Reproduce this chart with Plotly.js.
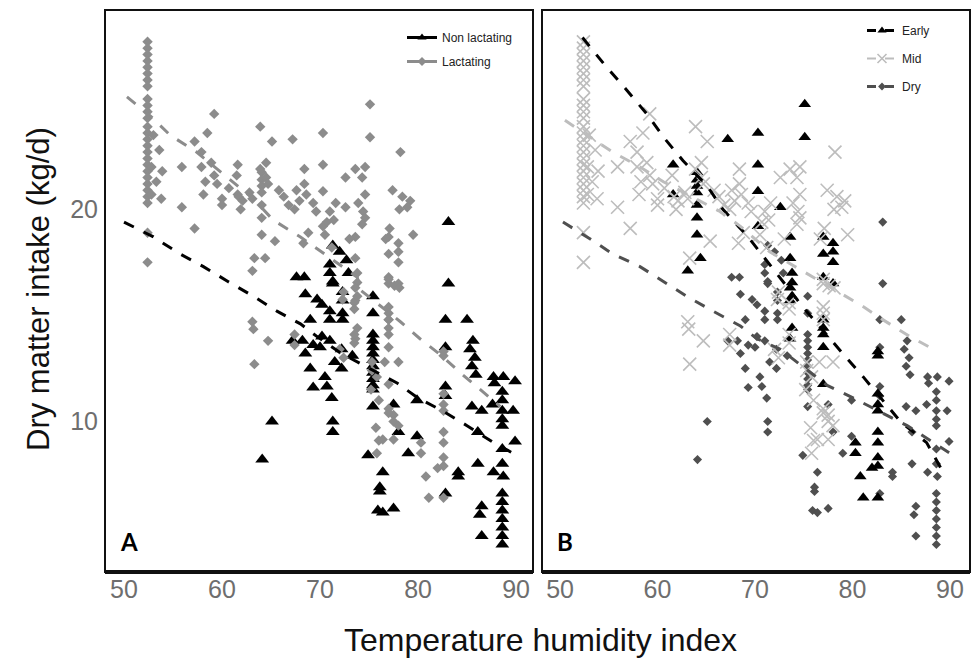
<!DOCTYPE html>
<html>
<head>
<meta charset="utf-8">
<script src="https://cdn.plot.ly/plotly-3.0.1.min.js"></script>
<style>html,body{margin:0;padding:0;background:#fff;}#chart{width:977px;height:665px;}</style>
</head>
<body>
<div id="chart"></div>
<script>
// ---- Data: Temperature humidity index (THI) vs Dry matter intake (kg/d) ----
// Dry (non lactating) cows
const dryTHI = [64.1,65.1,67.6,68.4,68.5,69.0,67.2,68.2,68.5,69.3,70.0,69.0,69.3,70.5,70.7,71.2,71.3,71.3,
  71.3,72.0,72.7,71.0,71.0,72.9,71.3,71.3,72.3,69.7,70.2,71.0,72.3,72.3,71.0,72.3,70.2,71.0,72.2,73.3,71.5,72.2,
  75.4,75.4,75.4,75.4,75.4,75.4,75.4,75.4,75.4,75.4,75.4,75.4,75.4,74.9,76.4,76.1,76.1,75.9,76.4,77.5,77.5,78.0,
  79.9,79.0,79.9,83.1,83.1,82.8,85.0,82.8,82.8,82.8,82.8,84.1,84.1,85.6,85.3,85.8,85.5,85.9,85.5,86.5,87.6,86.1,
  86.1,86.5,86.3,86.5,87.7,88.7,89.9,87.8,88.6,88.6,88.6,88.6,88.6,89.7,89.9,88.6,88.6,87.7,88.7,88.6,88.6,88.6,
  88.6,88.6,88.6,88.6];
const dryDMI = [8.2,10.0,16.8,16.8,16.0,14.8,13.8,13.8,13.2,13.6,13.5,12.5,11.6,12.1,11.65,11.1,10.0,9.5,
  18.3,18.0,17.6,17.4,17.0,17.0,16.6,16.5,16.1,15.75,15.5,15.2,15.7,15.1,14.8,14.8,14.0,13.8,13.4,13.1,12.8,12.5,
  15.9,15.1,14.1,13.8,13.5,13.2,12.9,12.6,12.3,12.0,11.7,11.5,10.7,8.4,7.6,6.9,6.7,5.8,5.7,5.9,10.8,9.5,
  9.3,8.5,11.0,19.4,16.5,14.8,14.8,13.5,11.65,11.2,6.6,7.6,7.4,13.8,13.4,13.0,12.6,12.2,10.7,10.5,10.8,9.5,
  8.0,6.0,5.6,4.6,12.1,12.1,11.9,11.8,11.4,11.0,10.5,10.1,9.8,10.5,9.05,8.7,8.0,7.6,7.4,6.6,6.2,
  5.8,5.4,5.0,4.6,4.2];

// Early lactation cows
const earlyTHI = [75.1,75.1,70.3,67.2,61.6,64.05,64.05,64.05,70.3,70.3,61.6,64.05,64.05,64.05,64.05,64.4,63.1,
  72.6,70.3,73.6,73.6,73.8,73.8,77.0,78.0,77.0,78.0,78.0,77.0,78.0,73.6,73.8,73.6,73.8,73.6,77.0,77.0,77.0,77.0,
  77.0,82.6,82.6,82.6,82.6,82.6,82.6,82.6,82.6,82.6,80.3,80.3,80.8,82.0,81.1,82.6];
const earlyDMI = [24.95,23.4,23.6,23.3,22.1,21.75,21.4,21.1,22.1,20.85,20.7,20.8,20.2,19.6,18.8,17.7,17.1,
  20.1,19.2,18.7,17.7,17.0,16.55,18.7,18.4,17.9,18.0,17.5,16.8,16.5,16.3,15.9,15.7,14.4,13.9,14.8,14.4,14.1,13.5,
  11.75,13.3,13.1,11.3,10.8,10.5,9.5,9.0,8.3,7.9,9.0,8.5,7.4,7.8,6.4,6.4];

// Mid lactation cows
const midTHI = [52.4,52.4,52.4,52.4,52.4,52.4,52.4,52.4,52.4,52.4,52.4,52.4,52.4,52.4,52.4,52.4,52.4,52.4,52.4,
  52.4,52.4,52.4,52.4,52.4,52.4,52.4,52.4,53.0,53.6,52.8,53.3,52.8,53.9,53.8,55.9,55.9,57.2,57.2,58.5,59.2,57.9,
  57.9,58.3,58.1,58.9,59.2,59.5,60.0,60.0,60.7,61.5,61.7,61.9,62.1,62.8,63.1,63.9,65.1,64.5,63.9,64.5,64.7,65.8,
  66.3,66.8,67.6,67.9,67.4,68.4,68.4,68.6,69.3,69.6,71.0,71.6,71.4,70.7,72.6,73.6,74.6,74.3,74.6,73.9,74.4,74.6,
  74.3,78.2,77.4,78.4,79.2,78.9,78.1,79.5,77.1,76.7,63.3,68.8,71.2,73.0,65.4,68.3,70.5,77.0,77.6,78.1,77.0,
  77.0,77.0,77.0,63.1,63.2,64.7,63.3,67.4,67.4,72.4,72.3,73.5,73.5,73.5,73.5,72.0,72.4,75.3,76.6,78.0,75.8,75.3,
  75.2,76.0,77.0,77.5,77.0,77.5,78.0,75.7,76.0,76.4,77.5,75.8];
const midDMI = [27.9,27.6,27.3,27.0,26.7,26.4,26.1,25.8,25.2,24.9,24.6,24.3,23.9,23.6,23.3,23.0,22.7,22.4,22.1,
  21.8,21.5,21.2,20.9,20.6,20.3,18.9,17.5,23.5,22.8,22.0,21.3,20.7,21.8,20.5,20.1,22.0,23.2,19.1,23.6,24.5,22.7,
  22.0,21.3,20.7,22.2,21.6,21.2,20.5,20.2,21.0,21.6,20.6,20.0,20.4,20.8,20.5,23.9,23.2,22.2,21.9,21.5,21.2,20.9,
  20.6,20.2,20.9,20.4,20.0,21.9,21.2,20.7,20.3,19.9,19.9,20.3,19.5,19.4,21.5,21.9,22.0,21.5,20.7,20.3,19.9,19.6,
  19.3,22.7,20.9,20.6,20.4,20.1,20.0,18.8,19.1,18.6,17.7,18.9,18.2,18.6,18.5,18.4,18.8,16.5,16.4,16.3,16.7,
  15.4,15.1,14.8,14.7,14.35,13.8,12.7,14.1,13.6,16.1,15.75,15.6,15.3,14.1,13.7,13.4,13.0,12.8,12.8,12.8,12.1,12.4,
  11.5,11.0,10.6,10.3,10.4,10.0,9.8,9.7,9.1,9.15,9.15,8.5];

// Fitted (predicted) DMI lines
const fitNonLactTHI = [50,53,55.7,58.1,60.6,63.2,65.6,68,69.7,72.2,77.9,80,82.5,85,87.7,89.7];
const fitNonLactDMI = [19.4,18.7,17.9,17.3,16.6,15.9,15.2,14.6,14.0,13.2,11.8,11.1,10.5,9.8,9.0,8.5];
const fitLactTHI = [50.3,52.7,54.7,57.4,63.2,65.2,68,73.8,74.1,78.2,80.2,82.4,84.3,86.3,88.4];
const fitLactDMI = [25.3,24.4,23.5,22.7,20.5,19.5,18.7,16.8,16.2,14.7,13.9,13.1,12.3,11.5,10.7];
const fitEarlyTHI = [52.3,54.6,56.7,58.9,60.8,62.6,65.1,66.7,69.2,74.9,79,81.1,84.9,87.6,89.3];
const fitEarlyDMI = [28.1,26.8,25.7,24.5,23.3,22.3,21.1,20.0,18.75,15.4,13.2,12.1,10.0,9.0,7.6];
const fitMidTHI = [50.5,53.1,55.4,58.2,60.6,66.4,68.5,71.5,80.8,83.1,85.9,88.7];
const fitMidDMI = [24.2,23.4,22.7,22.0,21.3,19.9,19.2,18.0,15.5,14.8,14.0,13.3];
const fitDryTHI = [50.3,53.1,55.4,58.2,60.6,63,65.7,68.5,70.2,72.6,77.4,80.1,85.6,90];
const fitDryDMI = [19.4,18.6,17.9,17.3,16.6,15.9,15.2,14.5,13.9,13.4,11.7,11.1,9.8,8.5];

const tickVals = [50,60,70,80,90];
const yTickVals = [10,20];
const labelsA = ['Non lactating','Lactating'];
const labelsB = ['Early','Mid','Dry'];

// lactating = early + mid
const lactTHI = earlyTHI.concat(midTHI);
const lactDMI = earlyDMI.concat(midDMI);

// ---- Styles ----
const cBlack = '#000000', cLact = '#8c8c8c', cMid = '#bdbdbd', cDry = '#4f4f4f';
const dashStyle = '11px,11px';
const FONT = 'Liberation Sans, Arial, sans-serif';

const mk = {
  tri: (c, s) => ({symbol: 'triangle-up', color: c, size: s}),
  dia: (c, s) => ({symbol: 'diamond', color: c, size: s}),
  xs: (c, s) => ({symbol: 'x-thin-open', color: c, size: s, line: {color: c, width: 1.6}})
};

const traces = [
  // Panel A
  {x: dryTHI, y: dryDMI, xaxis: 'x', yaxis: 'y', type: 'scatter', mode: 'markers', marker: mk.tri(cBlack, 12), showlegend: false},
  {x: lactTHI, y: lactDMI, xaxis: 'x', yaxis: 'y', type: 'scatter', mode: 'markers', marker: mk.dia(cLact, 8), showlegend: false},
  {x: fitNonLactTHI, y: fitNonLactDMI, xaxis: 'x', yaxis: 'y', type: 'scatter', mode: 'lines', line: {color: cBlack, width: 3, dash: dashStyle}, showlegend: false},
  {x: fitLactTHI, y: fitLactDMI, xaxis: 'x', yaxis: 'y', type: 'scatter', mode: 'lines', line: {color: cLact, width: 3, dash: dashStyle}, showlegend: false},
  // Panel B
  {x: dryTHI, y: dryDMI, xaxis: 'x2', yaxis: 'y2', type: 'scatter', mode: 'markers', marker: mk.dia(cDry, 7), showlegend: false},
  {x: earlyTHI, y: earlyDMI, xaxis: 'x2', yaxis: 'y2', type: 'scatter', mode: 'markers', marker: mk.tri(cBlack, 11), showlegend: false},
  {x: midTHI, y: midDMI, xaxis: 'x2', yaxis: 'y2', type: 'scatter', mode: 'markers', marker: mk.xs(cMid, 13), showlegend: false},
  {x: fitEarlyTHI, y: fitEarlyDMI, xaxis: 'x2', yaxis: 'y2', type: 'scatter', mode: 'lines', line: {color: cBlack, width: 3, dash: dashStyle}, showlegend: false},
  {x: fitMidTHI, y: fitMidDMI, xaxis: 'x2', yaxis: 'y2', type: 'scatter', mode: 'lines', line: {color: cMid, width: 3, dash: dashStyle}, showlegend: false},
  {x: fitDryTHI, y: fitDryDMI, xaxis: 'x2', yaxis: 'y2', type: 'scatter', mode: 'lines', line: {color: cDry, width: 3, dash: dashStyle}, showlegend: false},
  // Legend entries
  {x: [null], y: [null], xaxis: 'x', yaxis: 'y', name: labelsA[0], legend: 'legend', legendgroup: 'a1', mode: 'lines+markers', line: {color: cBlack, width: 3}, marker: mk.tri(cBlack, 8)},
  {x: [null], y: [null], xaxis: 'x', yaxis: 'y', name: labelsA[1], legend: 'legend', legendgroup: 'a2', mode: 'lines+markers', line: {color: cLact, width: 3}, marker: mk.dia(cLact, 7)},
  {x: [null], y: [null], xaxis: 'x2', yaxis: 'y2', name: labelsB[0], legend: 'legend2', legendgroup: 'b1', mode: 'lines+markers', line: {color: cBlack, width: 3, dash: 'dash'}, marker: mk.tri(cBlack, 8)},
  {x: [null], y: [null], xaxis: 'x2', yaxis: 'y2', name: labelsB[1], legend: 'legend2', legendgroup: 'b2', mode: 'lines+markers', line: {color: cMid, width: 2, dash: 'dash'}, marker: mk.xs(cMid, 9)},
  {x: [null], y: [null], xaxis: 'x2', yaxis: 'y2', name: labelsB[2], legend: 'legend2', legendgroup: 'b3', mode: 'lines+markers', line: {color: cDry, width: 3, dash: 'dash'}, marker: mk.dia(cDry, 6)}
];

const W = 977, H = 665;
const tickFont = {family: FONT, size: 25, color: '#6e6e6e'};
const yDom = [1 - 572 / H, 1 - 10 / H];

const baseX = {
  tickmode: 'array', tickvals: tickVals, ticks: '', showgrid: false, zeroline: false,
  showline: false, tickfont: tickFont, fixedrange: true
};
const baseY = {
  range: [2.9, 29.4], domain: yDom, tickmode: 'array', tickvals: yTickVals, ticks: '',
  showgrid: false, zeroline: false, showline: false, tickfont: tickFont, ticklabelstandoff: 6
};

function frame(xr, yr) {
  return [
    {type: 'rect', xref: xr + ' domain', yref: yr + ' domain', x0: 0, x1: 1, y0: 0, y1: 1, line: {color: '#111', width: 2}},
    {type: 'line', xref: xr + ' domain', yref: yr + ' domain', x0: 0, x1: 1, y0: 0, y1: 0, line: {color: '#111', width: 4}}
  ];
}

const layout = {
  width: W, height: H,
  margin: {l: 0, r: 0, t: 0, b: 0},
  paper_bgcolor: '#fff', plot_bgcolor: '#fff',
  showlegend: true,
  xaxis: Object.assign({}, baseX, {domain: [105 / W, 533 / W], range: [48.06, 91.73], anchor: 'y'}),
  yaxis: Object.assign({}, baseY, {anchor: 'x'}),
  xaxis2: Object.assign({}, baseX, {domain: [542 / W, 970 / W], range: [48.15, 92.05], anchor: 'y2'}),
  yaxis2: Object.assign({}, baseY, {anchor: 'x2', showticklabels: false}),
  legend: {x: 402 / W, y: 1 - 23 / H, xanchor: 'left', yanchor: 'top', bgcolor: 'rgba(0,0,0,0)',
    font: {family: FONT, size: 12, color: '#222'}, tracegroupgap: 5, itemwidth: 30},
  legend2: {x: 862 / W, y: 1 - 16 / H, xanchor: 'left', yanchor: 'top', bgcolor: 'rgba(0,0,0,0)',
    font: {family: FONT, size: 12, color: '#222'}, tracegroupgap: 9, itemwidth: 30},
  shapes: frame('x', 'y').concat(frame('x2', 'y2')),
  annotations: [
    {text: 'Dry matter intake (kg/d)', xref: 'paper', yref: 'paper', x: 38 / W, y: 1 - 289 / H,
      xanchor: 'center', yanchor: 'middle', textangle: -90, showarrow: false,
      font: {family: FONT, size: 31, color: '#111'}},
    {text: 'Temperature humidity index', xref: 'paper', yref: 'paper', x: 540 / W, y: 1 - 640 / H,
      xanchor: 'center', yanchor: 'middle', showarrow: false,
      font: {family: FONT, size: 32, color: '#111'}},
    {text: '<b>A</b>', xref: 'x domain', yref: 'y domain', x: 0.03, y: 0.025, xanchor: 'left', yanchor: 'bottom',
      showarrow: false, font: {family: 'Lato, Open Sans, sans-serif', size: 24, color: '#000'}},
    {text: '<b>B</b>', xref: 'x2 domain', yref: 'y2 domain', x: 0.03, y: 0.025, xanchor: 'left', yanchor: 'bottom',
      showarrow: false, font: {family: 'Lato, Open Sans, sans-serif', size: 24, color: '#000'}}
  ]
};

Plotly.newPlot('chart', traces, layout, {staticPlot: true, displayModeBar: false});
</script>
</body>
</html>
